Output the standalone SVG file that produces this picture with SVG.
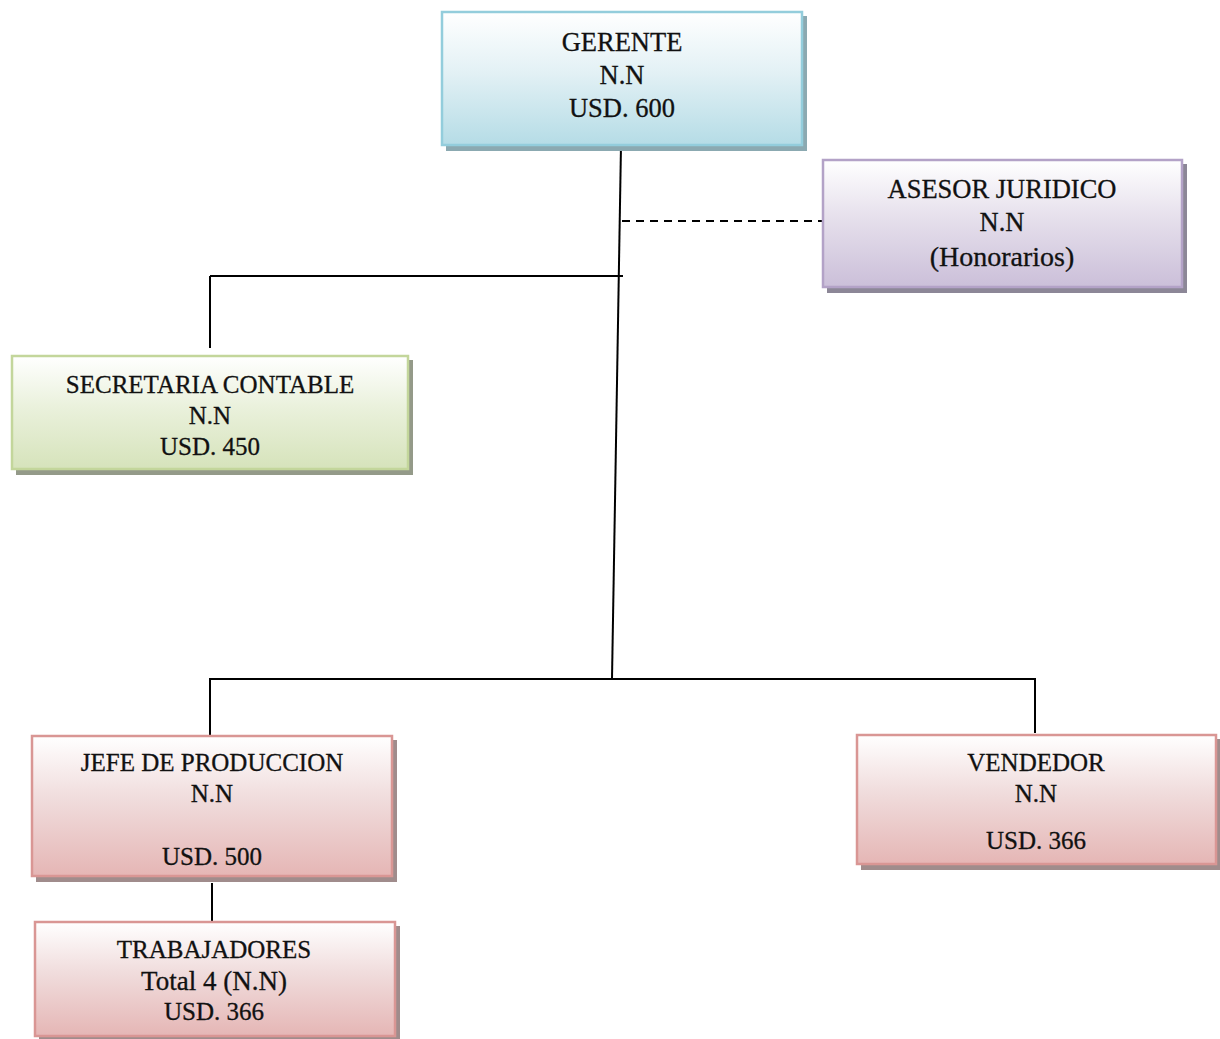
<svg xmlns="http://www.w3.org/2000/svg" width="1220" height="1039" viewBox="0 0 1220 1039">
  <defs>
    <linearGradient id="gBlue" x1="0" y1="0" x2="0" y2="1">
      <stop offset="0" stop-color="#ffffff"/>
      <stop offset="0.45" stop-color="#e3f1f5"/>
      <stop offset="1" stop-color="#b5dce6"/>
    </linearGradient>
    <linearGradient id="gPurple" x1="0" y1="0" x2="0" y2="1">
      <stop offset="0" stop-color="#ffffff"/>
      <stop offset="0.45" stop-color="#e6e0ec"/>
      <stop offset="1" stop-color="#cbbfd9"/>
    </linearGradient>
    <linearGradient id="gGreen" x1="0" y1="0" x2="0" y2="1">
      <stop offset="0" stop-color="#ffffff"/>
      <stop offset="0.45" stop-color="#eaf1dc"/>
      <stop offset="1" stop-color="#d6e3bb"/>
    </linearGradient>
    <linearGradient id="gRed" x1="0" y1="0" x2="0" y2="1">
      <stop offset="0" stop-color="#ffffff"/>
      <stop offset="0.45" stop-color="#f0dcdc"/>
      <stop offset="1" stop-color="#e5b6b5"/>
    </linearGradient>
  </defs>
  <style>
    text { font-family: "Liberation Serif", "Times New Roman", serif; font-size: 25px; fill: #111; text-anchor: middle; stroke: #111; stroke-width: 0.3; }
    .big { font-size: 26.5px; }
    .mixed { font-size: 28px; }
    .mixed2 { font-size: 27px; }
    .shadow { stroke: none; }
    .box { stroke-width: 2.5; }
    .blue { fill: url(#gBlue); stroke: #93cddc; }
    .purple { fill: url(#gPurple); stroke: #b3a2c7; }
    .green { fill: url(#gGreen); stroke: #c3d69b; }
    .red { fill: url(#gRed); stroke: #d99694; }
    .line { stroke: #000; stroke-width: 2; fill: none; }
    .dash { stroke: #000; stroke-width: 2; fill: none; stroke-dasharray: 8 6; }
  </style>

  <g id="connectors">
    <line class="line" x1="621" y1="145" x2="612" y2="679"/>
    <line class="dash" x1="622" y1="221" x2="822" y2="221"/>
    <line class="line" x1="210" y1="276" x2="623" y2="276"/>
    <line class="line" x1="210" y1="276" x2="210" y2="348"/>
    <line class="line" x1="210" y1="679" x2="1035" y2="679"/>
    <line class="line" x1="210" y1="678" x2="210" y2="735"/>
    <line class="line" x1="1035" y1="678" x2="1035" y2="733"/>
    <line class="line" x1="212" y1="883" x2="212" y2="921"/>
  </g>

  <g id="gerente">
    <rect class="shadow" x="446" y="16" width="361" height="135" fill="#8ba9b1"/>
    <rect class="box blue" x="442" y="12" width="360" height="133"/>
    <text class="big" x="622" y="51">GERENTE</text>
    <text class="big" x="622" y="84">N.N</text>
    <text class="big" x="622" y="117">USD. 600</text>
  </g>

  <g id="asesor-juridico">
    <rect class="shadow" x="827" y="164" width="360" height="129" fill="#8c8797"/>
    <rect class="box purple" x="823" y="160" width="359" height="127"/>
    <text class="big" x="1002" y="198">ASESOR JURIDICO</text>
    <text class="big" x="1002" y="231">N.N</text>
    <text class="mixed" x="1002" y="266">(Honorarios)</text>
  </g>

  <g id="secretaria-contable">
    <rect class="shadow" x="16" y="360" width="397" height="115" fill="#949a89"/>
    <rect class="box green" x="12" y="356" width="396" height="113"/>
    <text x="210" y="393">SECRETARIA CONTABLE</text>
    <text x="210" y="424">N.N</text>
    <text x="210" y="455">USD. 450</text>
  </g>

  <g id="jefe-produccion">
    <rect class="shadow" x="36" y="740" width="361" height="142" fill="#a08c8c"/>
    <rect class="box red" x="32" y="736" width="360" height="140"/>
    <text x="212" y="771">JEFE DE PRODUCCION</text>
    <text x="212" y="802">N.N</text>
    <text x="212" y="865">USD. 500</text>
  </g>

  <g id="vendedor">
    <rect class="shadow" x="861" y="739" width="360" height="131" fill="#a08c8c"/>
    <rect class="box red" x="857" y="735" width="359" height="129"/>
    <text x="1036" y="771">VENDEDOR</text>
    <text x="1036" y="802">N.N</text>
    <text x="1036" y="849">USD. 366</text>
  </g>

  <g id="trabajadores">
    <rect class="shadow" x="39" y="926" width="361" height="116" fill="#a08c8c"/>
    <rect class="box red" x="35" y="922" width="360" height="114"/>
    <text x="214" y="958">TRABAJADORES</text>
    <text class="mixed2" x="214" y="990">Total 4 (N.N)</text>
    <text x="214" y="1020">USD. 366</text>
  </g>
</svg>
